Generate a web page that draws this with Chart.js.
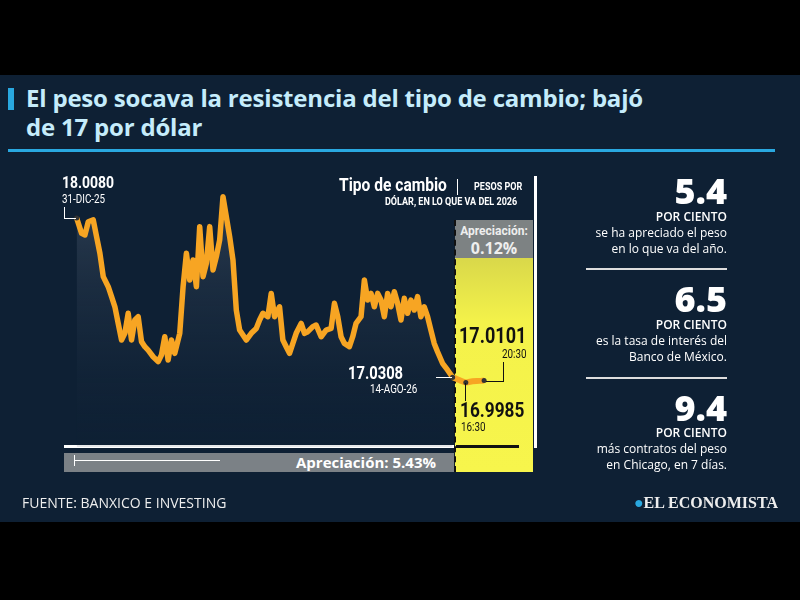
<!DOCTYPE html>
<html><head><meta charset="utf-8">
<script src="https://cdn.jsdelivr.net/npm/chart.js@4"></script>
<style>
body{margin:0;width:800px;height:600px;background:#000;font-family:'Open Sans','DejaVu Sans',sans-serif;position:relative;overflow:hidden}
#panel{position:absolute;left:0;top:75px;width:800px;height:447px;background:#0e2034}
.a{position:absolute;color:#fff;white-space:nowrap}
.n{font-family:'Roboto','DejaVu Sans',sans-serif;transform:scaleX(0.82);transform-origin:left top}
#c{position:absolute;left:0;top:0}
.r{right:73px;text-align:right}
</style></head><body>
<div id="panel"></div>
<div class="a" style="left:8px;top:88px;width:6px;height:22px;background:#29a8e0"></div>
<div class="a" style="left:26px;top:83px;font:bold 24px/29px 'Open Sans',sans-serif;color:#c5ecfb;letter-spacing:-0.2px">El peso socava la resistencia del tipo de cambio; bajó<br>de 17 por dólar</div>
<div class="a" style="left:8px;top:149px;width:767px;height:3px;background:#29a8e0"></div>
<!-- yellow side panel -->
<div class="a" style="left:455px;top:220px;width:78px;height:38px;background:#7d8283"></div>
<div class="a" style="left:455px;top:258px;width:78px;height:214px;background:linear-gradient(#d9d84a,#f4f24a 30%,#f7f54c)"></div>
<div class="a" style="left:454px;top:220px;height:252px;border-left:2px dashed #111"></div>
<div class="a" style="left:456px;top:224px;width:76px;text-align:center;font:bold 12px/14px 'Roboto',sans-serif;color:#eee">Apreciación:<br><span style="font-family:'Open Sans',sans-serif;font-size:16px;line-height:20px">0.12%</span></div>
<div class="a" style="left:534px;top:176px;width:3px;height:272px;background:#fff"></div>
<div class="a" style="left:64px;top:445px;width:390px;height:3px;background:#fff"></div>
<div class="a" style="left:456px;top:445px;width:63px;height:3px;background:#111"></div>
<div class="a" style="left:64px;top:453px;width:390px;height:19px;background:#7b8186"></div>
<div class="a" style="left:74px;top:460px;width:146px;height:1px;background:#fff"></div>
<div class="a" style="left:74px;top:455px;width:1px;height:11px;background:#fff"></div>
<div class="a" style="left:296px;top:452px;font:bold 15px/20px 'Open Sans',sans-serif;color:#fff">Apreciación: 5.43%</div>
<!-- chart canvas -->
<canvas id="c" width="800" height="600"></canvas>
<!-- chart annotations -->
<div class="a n" style="left:62px;top:173px;font-weight:bold;font-size:17px;line-height:18px">18.0080</div>
<div class="a n" style="left:62px;top:193px;font-size:12px;line-height:12px">31-DIC-25</div>
<div class="a" style="left:64px;top:207px;width:1px;height:11px;background:#fff"></div>
<div class="a" style="left:64px;top:218px;width:12px;height:1px;background:#fff"></div>
<div class="a n" style="left:339px;top:175px;font-weight:bold;font-size:19px;line-height:20px">Tipo de cambio</div>
<div class="a" style="left:457px;top:179px;width:1px;height:16px;background:#fff"></div>
<div class="a n" style="left:474px;top:181px;font-weight:bold;font-size:11px;line-height:12px">PESOS POR</div>
<div class="a n" style="left:385px;top:196px;font-weight:bold;font-size:11px;line-height:12px">DÓLAR, EN LO QUE VA DEL 2026</div>
<div class="a n" style="left:348px;top:364px;font-weight:bold;font-size:18px;line-height:18px">17.0308</div>
<div class="a n" style="left:370px;top:383px;font-size:12px;line-height:12px">14-AGO-26</div>
<div class="a" style="left:436px;top:377px;width:16px;height:1px;background:#fff"></div>
<div class="a n" style="left:459px;top:325px;font-weight:bold;font-size:22px;line-height:22px;color:#111">17.0101</div>
<div class="a n" style="left:502px;top:348px;font-size:12px;line-height:12px;color:#111">20:30</div>
<div class="a" style="left:503px;top:362px;width:1px;height:20px;background:#111"></div>
<div class="a" style="left:486px;top:381px;width:18px;height:1px;background:#111"></div>
<div class="a" style="left:465px;top:383px;width:1px;height:18px;background:#111"></div>
<div class="a n" style="left:460px;top:399px;font-weight:bold;font-size:21px;line-height:22px;color:#111">16.9985</div>
<div class="a n" style="left:461px;top:421px;font-size:12px;line-height:12px;color:#111">16:30</div>
<!-- right column -->
<div class="a r" style="top:171px;font:800 36px/40px 'Open Sans',sans-serif">5.4</div>
<div class="a r" style="top:209px;font:600 12px/16px 'Open Sans',sans-serif">POR CIENTO<br><span style="font-weight:400">se ha apreciado el peso<br>en lo que va del año.</span></div>
<div class="a" style="left:586px;top:268px;width:141px;height:2px;background:#ddd"></div>
<div class="a r" style="top:279px;font:800 36px/40px 'Open Sans',sans-serif">6.5</div>
<div class="a r" style="top:317px;font:600 12px/16px 'Open Sans',sans-serif">POR CIENTO<br><span style="font-weight:400">es la tasa de interés del<br>Banco de México.</span></div>
<div class="a" style="left:586px;top:377px;width:141px;height:2px;background:#ddd"></div>
<div class="a r" style="top:388px;font:800 36px/40px 'Open Sans',sans-serif">9.4</div>
<div class="a r" style="top:425px;font:600 12px/16px 'Open Sans',sans-serif">POR CIENTO<br><span style="font-weight:400">más contratos del peso<br>en Chicago, en 7 días.</span></div>
<div class="a" style="left:22px;top:494px;font:14px/18px 'Open Sans',sans-serif;color:#eee">FUENTE: BANXICO E INVESTING</div>
<div class="a" style="right:22px;top:493px;font:bold 16px/20px 'Liberation Serif',serif;color:#eee"><span style="color:#29a8e0">●</span>EL ECONOMISTA</div>
<script>
// Tipo de cambio (pesos por dólar), posición en el eje = índice de sesión
const daysX = [50,65,75,85,100,110,120,130,145,155,165,175,185,195,205,215,225,235,245,255,265,280,295,305,315,325,335,345,360,370,380,390,400,410,420,430,440,450,460,470,480,490,500,510,520,530,540,560,575,590,600,610,625,635,645,660,670,680,690,700,710,725,735,745,760,770,785,800,815,825,835,845,855,870,880,890,905,915,925,935,945,955,965,975,985,995,1005,1015,1025,1035,1045,1055,1065,1075,1085,1095,1105,1115,1125,1135,1150,1165,1180];
const dailyRate = [18.008,17.914,17.904,17.985,17.996,17.893,17.791,17.648,17.586,17.525,17.463,17.361,17.259,17.300,17.423,17.259,17.382,17.402,17.249,17.218,17.197,17.156,17.126,17.167,17.279,17.136,17.259,17.177,17.300,17.586,17.791,17.627,17.750,17.586,17.955,17.648,17.730,17.955,17.689,17.771,17.873,18.139,18.016,17.893,17.750,17.443,17.320,17.259,17.300,17.330,17.382,17.423,17.402,17.545,17.402,17.463,17.259,17.218,17.177,17.238,17.300,17.361,17.300,17.310,17.341,17.351,17.279,17.320,17.330,17.484,17.402,17.279,17.238,17.218,17.279,17.361,17.402,17.627,17.504,17.545,17.463,17.545,17.504,17.402,17.545,17.463,17.555,17.484,17.382,17.515,17.423,17.504,17.443,17.525,17.402,17.463,17.402,17.320,17.238,17.187,17.116,17.075,17.0308];
const intradayX = [1180,1200,1220,1240,1260,1275];
const intradayRate = [17.0308,17.013,16.9985,17.006,17.008,17.0101];
const markedX = [50,1180,1220,1275];

const ORANGE = '#f7a523';
const ctx = document.getElementById('c').getContext('2d');
const grad = ctx.createLinearGradient(0, 190, 0, 447);
grad.addColorStop(0, 'rgba(70,85,105,0.55)');
grad.addColorStop(1, 'rgba(14,32,52,0.1)');
const pts = (xs, ys) => xs.map((x, i) => ({ x, y: ys[i] }));
const dotR = c => markedX.includes(c.raw && c.raw.x) ? 2.5 : 0;

new Chart(ctx, {
  type: 'line',
  data: { datasets: [
    { data: pts(daysX, dailyRate), borderColor: ORANGE, borderWidth: 5.5, fill: 'start', backgroundColor: grad,
      tension: 0, borderJoinStyle: 'round', pointRadius: dotR, pointBackgroundColor: '#333', pointBorderWidth: 0 },
    { data: pts(intradayX, intradayRate), borderColor: ORANGE, borderWidth: 6, fill: false,
      tension: 0.3, pointRadius: dotR, pointBackgroundColor: '#333', pointBorderWidth: 0 }
  ] },
  options: {
    responsive: false, animation: false,
    layout: { padding: { left: 60, right: 260, top: 175, bottom: 153 } },
    plugins: { legend: { display: false }, tooltip: { enabled: false } },
    scales: {
      x: { type: 'linear', min: 0, max: 1443, display: false },
      y: { min: 16.602, max: 18.272, display: false }
    }
  }
});
</script>
</body></html>
